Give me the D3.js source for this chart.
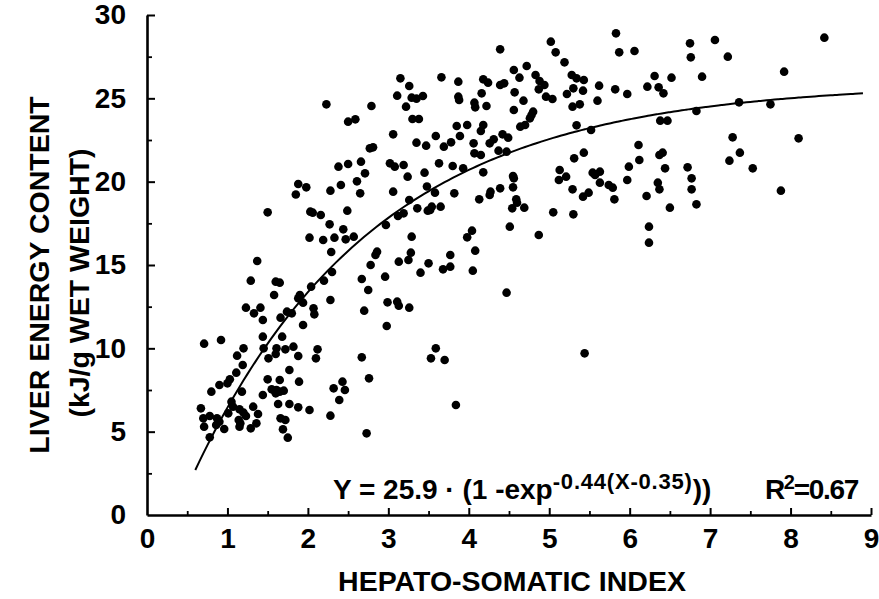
<!DOCTYPE html>
<html>
<head>
<meta charset="utf-8">
<script src="https://cdn.jsdelivr.net/npm/d3@7/dist/d3.min.js"></script>
<style>
  html, body { margin: 0; padding: 0; background: #fff; }
  svg { display: block; }
  text { font-family: "Liberation Sans", Arial, Helvetica, sans-serif; fill: #000; }
</style>
</head>
<body>
<svg id="chart" width="879" height="599"></svg>
<script>
// ---- Data ----
const hsi = [
  3.15,3.26,3.11,3.29,3.35,3.43,2.23,2.79,3.22,2.50,2.59,3.30,3.38,3.06,3.35,3.47,2.77,2.81,2.38,2.50,
  2.66,3.02,3.08,3.19,2.71,3.24,3.45,1.88,1.98,1.85,2.28,2.41,2.61,2.65,3.06,3.48,1.50,2.03,2.06,2.16,
  2.49,2.27,2.44,2.02,2.19,2.33,2.47,2.57,2.29,2.97,3.12,3.19,3.26,3.36,3.49,3.29,2.84,2.86,2.78,3.13,
  3.25,3.28,3.40,3.50,1.37,1.29,1.60,1.65,1.58,2.20,2.30,2.04,1.90,1.88,1.94,2.28,2.67,2.75,2.96,1.23,
  1.33,1.41,1.44,1.66,1.74,1.80,2.07,2.08,1.94,2.70,2.99,3.11,3.13,3.26,2.98,0.71,0.92,1.20,1.44,1.12,
  1.45,1.51,1.68,1.61,1.60,1.72,1.82,1.88,2.12,2.10,2.67,3.53,1.19,1.11,1.03,1.00,0.80,0.90,0.67,1.05,
  1.18,0.70,0.71,0.78,0.87,0.90,0.86,0.78,0.96,1.01,1.07,1.15,1.20,1.14,1.16,1.15,1.23,1.32,1.38,1.29,
  1.36,1.50,1.65,1.77,1.89,1.44,1.55,1.61,1.65,1.70,1.60,1.63,1.77,1.88,2.02,1.66,1.72,1.69,1.75,2.28,
  2.32,2.43,2.46,2.39,2.76,2.73,
  5.83,5.02,5.08,5.19,4.39,5.87,6.06,6.75,6.76,7.06,3.66,3.87,4.18,4.24,4.39,4.44,4.56,4.63,4.72,4.83,
  4.88,4.94,4.87,4.96,5.04,5.28,5.34,5.43,5.30,5.22,5.42,5.62,5.60,5.82,5.97,6.22,6.31,6.36,6.42,6.52,
  6.90,3.87,3.88,4.07,4.08,4.22,4.16,4.57,4.68,4.56,4.80,4.78,4.76,5.29,5.38,3.85,3.98,4.18,4.15,4.64,
  4.70,5.34,5.52,6.38,6.47,6.83,3.69,3.59,3.78,3.89,4.06,4.07,4.15,4.26,4.31,4.42,4.49,4.37,4.47,3.63,
  3.80,3.93,4.18,4.55,4.56,3.58,3.82,4.13,4.27,4.26,4.39,4.55,4.59,5.31,5.43,5.13,5.12,5.21,5.29,5.42,
  5.49,5.54,5.63,5.57,5.63,5.74,5.79,5.81,6.11,6.12,5.99,5.97,6.21,6.37,6.41,6.44,6.35,6.37,6.72,6.77,
  6.77,
  3.52,3.54,3.65,4.60,4.54,4.69,4.51,4.04,3.98,4.08,4.87,5.05,5.30,6.50,6.24,6.24,6.83,3.77,3.77,3.68,
  4.05,4.47,3.59,3.70,5.44,3.84,
  7.22,8.42,7.92,7.36,7.75,7.28,7.37,7.24,7.53,8.10,7.88
];
const energy = [
  26.20,25.74,25.16,25.04,24.98,25.14,24.64,24.54,24.50,23.60,23.74,23.76,23.76,22.84,22.34,22.16,22.00,22.06,20.90,21.06,
  21.20,21.10,20.90,21.00,20.50,20.30,20.54,19.86,19.66,19.23,19.46,19.80,20.02,19.30,19.40,19.71,18.16,18.20,18.14,18.00,
  18.26,17.44,17.14,16.64,16.50,16.64,16.54,16.70,15.78,17.40,17.94,18.10,18.90,18.40,18.26,16.70,15.60,15.80,15.00,15.20,
  15.30,15.74,14.54,15.10,15.24,14.06,14.00,13.94,13.20,14.06,14.58,13.70,13.20,13.00,12.74,12.90,14.16,13.50,14.30,12.44,
  12.10,12.44,11.70,11.84,12.20,12.10,12.40,12.04,11.40,12.26,12.76,12.80,12.56,12.44,11.34,10.28,10.50,10.00,10.70,9.56,
  10.00,9.40,10.70,10.00,9.66,9.94,10.10,9.54,9.94,9.40,9.46,9.40,9.00,8.54,8.14,7.90,7.40,7.80,6.40,6.80,
  7.40,5.80,5.30,5.94,5.80,5.60,5.40,4.66,5.16,6.10,6.50,6.34,6.14,5.70,5.50,5.30,5.94,6.50,6.06,5.20,
  5.50,8.14,8.10,8.70,8.00,7.20,7.54,7.50,7.40,7.46,7.30,6.66,6.66,6.46,6.30,5.80,5.70,5.14,4.64,5.96,
  7.60,8.00,7.50,6.90,8.20,4.90,
  28.90,28.40,27.76,27.16,27.94,27.76,27.84,28.30,27.46,28.50,26.26,26.00,26.14,25.94,25.80,25.90,26.70,26.24,26.94,26.40,
  26.04,25.80,25.54,25.10,24.96,26.40,26.20,26.10,25.60,25.26,25.46,25.76,24.86,25.54,25.26,25.70,26.34,25.66,25.30,26.24,
  26.30,25.10,24.90,24.74,24.46,24.54,25.30,25.36,24.86,24.30,24.20,24.00,23.80,24.50,24.64,23.34,23.40,23.40,23.04,23.30,
  23.40,23.38,23.10,23.66,23.66,24.24,22.10,22.74,22.36,22.74,22.30,21.70,21.60,22.30,22.54,22.84,22.64,21.86,21.80,21.10,
  20.94,20.80,20.56,20.34,20.20,19.34,19.30,18.94,19.40,19.20,19.60,19.66,18.94,21.40,21.74,20.70,20.10,20.30,19.54,19.10,
  19.34,20.54,20.60,20.40,19.94,19.80,19.64,18.94,22.20,21.30,20.90,20.10,19.14,21.60,21.74,20.80,19.94,19.54,20.86,20.20,
  19.54,
  18.30,18.50,18.50,18.74,18.40,18.44,17.30,17.06,16.66,15.86,16.80,18.16,18.04,18.44,17.30,16.34,18.64,15.60,14.90,14.74,
  14.66,13.34,10.00,9.30,9.70,6.60,
  27.50,28.64,26.60,24.76,24.64,22.66,21.74,21.26,20.80,22.60,19.46
];
const xTickLabels = ["0","1","2","3","4","5","6","7","8","9"];
const yTickLabels = ["0","5","10","15","20","25","30"];
const fitA = 25.9, fitK = 0.44, fitX0 = 0.35;   // Y = 25.9·(1-exp(-0.44(X-0.35)))
const fitRange = [0.6, 8.9];

// ---- Chart ----
const svg = d3.select("#chart");
const x = d3.scaleLinear().domain([0, 9]).range([147, 871]);
const y = d3.scaleLinear().domain([0, 30]).range([515, 15]);

const FONT = 'bold 28.5px "Liberation Sans", Arial, sans-serif';
const TICKFONT = 'bold 28px "Liberation Sans", Arial, sans-serif';

// minor ticks
const xMinor = d3.range(0.5, 9, 1);
const yMinor = d3.range(2.5, 30, 5);
svg.append("g").attr("transform", `translate(0,${y(0)})`)
  .call(d3.axisBottom(x).tickValues(xMinor).tickSize(-4).tickFormat(""))
  .call(g => g.select(".domain").remove())
  .call(g => g.selectAll("line").attr("stroke", "#000").attr("stroke-width", 1.8));
svg.append("g").attr("transform", `translate(${x(0)},0)`)
  .call(d3.axisLeft(y).tickValues(yMinor).tickSize(-5).tickFormat(""))
  .call(g => g.select(".domain").remove())
  .call(g => g.selectAll("line").attr("stroke", "#000").attr("stroke-width", 1.8));

// major axes
const xAxis = svg.append("g").attr("transform", `translate(0,${y(0)})`)
  .call(d3.axisBottom(x).tickValues(d3.range(0, 10)).tickSize(-7).tickSizeOuter(0).tickPadding(13)
    .tickFormat((d, i) => xTickLabels[i]));
const yAxis = svg.append("g").attr("transform", `translate(${x(0)},0)`)
  .call(d3.axisLeft(y).tickValues(d3.range(0, 31, 5)).tickSize(-8).tickSizeOuter(0).tickPadding(21)
    .tickFormat((d, i) => yTickLabels[i]));
[xAxis, yAxis].forEach(g => {
  g.select(".domain").attr("stroke", "#000").attr("stroke-width", 2.6);
  g.selectAll(".tick line").attr("stroke", "#000").attr("stroke-width", 2);
  g.selectAll(".tick text").style("font", TICKFONT).attr("fill", "#000");
});
xAxis.selectAll(".tick").filter(d => d === 0).select("line").remove();
yAxis.selectAll(".tick").filter(d => d === 0).select("line").remove();

// fitted curve
const curvePts = d3.range(fitRange[0], fitRange[1] + 1e-9, 0.05)
  .map(v => [v, fitA * (1 - Math.exp(-fitK * (v - fitX0)))]);
svg.append("path")
  .datum(curvePts)
  .attr("fill", "none").attr("stroke", "#000").attr("stroke-width", 2)
  .attr("d", d3.line().x(d => x(d[0])).y(d => y(d[1])).curve(d3.curveMonotoneX));

// points
svg.append("g").selectAll("circle")
  .data(hsi.map((h, i) => ({ h, e: energy[i] })))
  .join("circle")
  .attr("cx", d => x(d.h)).attr("cy", d => y(d.e)).attr("r", 4.3)
  .attr("fill", "#000");

// axis titles
svg.append("text")
  .attr("x", 512).attr("y", 591).attr("text-anchor", "middle")
  .style("font", FONT).text("HEPATO-SOMATIC INDEX");
svg.append("text")
  .attr("transform", "translate(49,275) rotate(-90)").attr("text-anchor", "middle")
  .style("font", FONT).text("LIVER ENERGY CONTENT");
svg.append("text")
  .attr("transform", "translate(89,283) rotate(-90)").attr("text-anchor", "middle")
  .style("font", FONT).text("(kJ/g WET WEIGHT)");

// equation
const eq = svg.append("text").attr("x", 333).attr("y", 499).style("font", TICKFONT);
eq.append("tspan").text("Y = 25.9 · (1 -exp");
eq.append("tspan").attr("dy", -10).style("font-size", "22px").style("letter-spacing", "0.8px").text("-0.44(X-0.35)");
eq.append("tspan").attr("dy", 10).text("))");
const r2 = svg.append("text").attr("x", 858).attr("y", 499).attr("text-anchor", "end").style("font", TICKFONT)
  .style("letter-spacing", "-1.3px");
r2.append("tspan").text("R");
r2.append("tspan").attr("dy", -10).style("font-size", "20px").text("2");
r2.append("tspan").attr("dy", 10).text("=0.67");
</script>
</body>
</html>
